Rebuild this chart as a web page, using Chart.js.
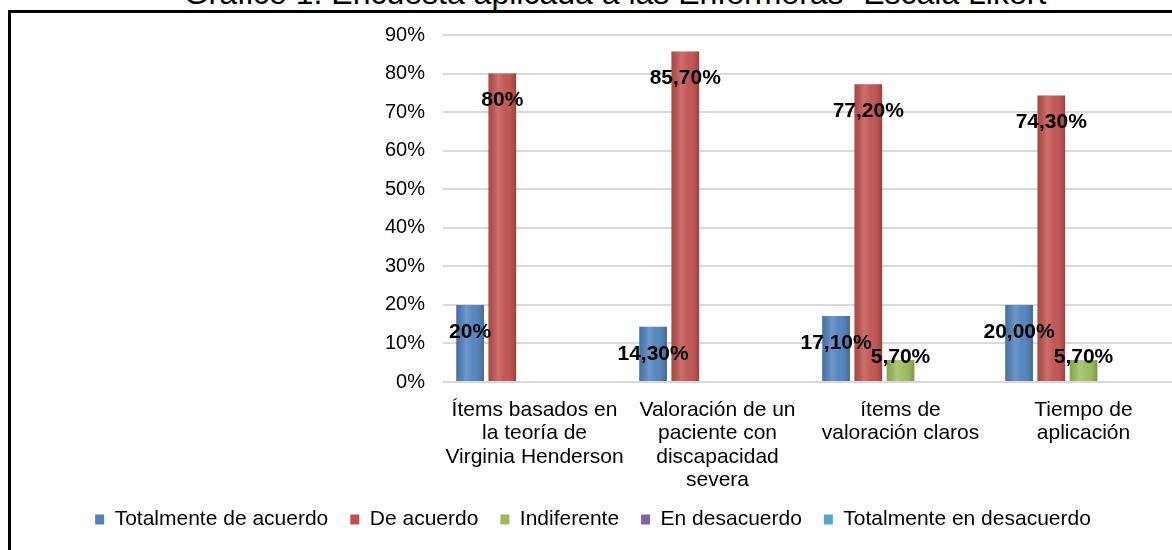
<!DOCTYPE html>
<html>
<head>
<meta charset="utf-8">
<script src="https://cdn.jsdelivr.net/npm/chart.js@4.4.0/dist/chart.umd.min.js"></script>
<style>
    html, body { margin: 0; padding: 0; background: #fff; overflow: hidden; width: 1172px; height: 550px; }
    #title {
        position: absolute; left: 0; top: -23px; width: 1230px; text-align: center;
        font: 32px "Liberation Sans", Arial, sans-serif; line-height: 32px; color: #000;
        white-space: nowrap;
    }
    #box {
        position: absolute; left: 8px; top: 10px; width: 1196px; height: 570px;
        border: 3px solid #000; box-sizing: border-box;
    }
    #wrap { position: absolute; left: 11px; top: 13px; width: 1190px; height: 560px; }
</style>
</head>
<body>
<div id="title">Gráfico 1. Encuesta aplicada a las Enfermeras -Escala Likert</div>
<div id="box"></div>
<div id="wrap"><canvas id="likert_chart"></canvas></div>
<script>
var categorias = [
    ["Ítems basados en", "la teoría de", "Virginia Henderson"],
    ["Valoración de un", "paciente con", "discapacidad", "severa"],
    ["ítems de", "valoración claros"],
    ["Tiempo de", "aplicación"]
];
var series = ["Totalmente de acuerdo", "De acuerdo", "Indiferente", "En desacuerdo", "Totalmente en desacuerdo"];

var totalmenteDeAcuerdo = [20, 14.3, 17.1, 20];
var deAcuerdo = [80, 85.7, 77.2, 74.3];
var indiferente = [0, 0, 5.7, 5.7];
var enDesacuerdo = [0, 0, 0, 0];
var totalmenteEnDesacuerdo = [0, 0, 0, 0];

// etiquetas tal como aparecen en el grafico
var etiquetasTotalmente = ["20%", "14,30%", "17,10%", "20,00%"];
var etiquetasDeAcuerdo = ["80%", "85,70%", "77,20%", "74,30%"];
var etiquetasIndiferente = ["", "", "5,70%", "5,70%"];

var yTicks = [0, 10, 20, 30, 40, 50, 60, 70, 80, 90];

var FONT = "'Liberation Sans', Arial, sans-serif";
var colores = ["#4F81BD", "#C0504D", "#9BBB59", "#8064A2", "#4BACC6"];

var etiquetas = [etiquetasTotalmente, etiquetasDeAcuerdo, etiquetasIndiferente, [], []];
var valores = [totalmenteDeAcuerdo, deAcuerdo, indiferente, enDesacuerdo, totalmenteEnDesacuerdo];

//bevel look + data labels
var barLabels = {
    id: "barLabels",
    afterDatasetsDraw: function(chart) {
        var ctx = chart.ctx;
        chart.data.datasets.forEach(function(ds, di) {
            var meta = chart.getDatasetMeta(di);
            meta.data.forEach(function(bar, i) {
                if (!ds.data[i]) return;
                var left = bar.x - bar.width / 2;
                var g = ctx.createLinearGradient(left, 0, left + bar.width, 0);
                g.addColorStop(0, "rgba(0,0,0,0.12)");
                g.addColorStop(0.35, "rgba(255,255,255,0.18)");
                g.addColorStop(0.6, "rgba(255,255,255,0.05)");
                g.addColorStop(1, "rgba(0,0,0,0.2)");
                ctx.save();
                ctx.fillStyle = g;
                ctx.fillRect(left, bar.y, bar.width, bar.base - bar.y);
                ctx.restore();
            });
        });
        ctx.save();
        ctx.font = "bold 21px " + FONT;
        ctx.fillStyle = "#000";
        ctx.textAlign = "center";
        ctx.textBaseline = "middle";
        chart.data.datasets.forEach(function(ds, di) {
            var meta = chart.getDatasetMeta(di);
            meta.data.forEach(function(bar, i) {
                var txt = (etiquetas[di] || [])[i];
                if (!txt) return;
                var y = Math.min(bar.y + 27, bar.base - 24);
                ctx.fillText(txt, bar.x, y);
            });
        });
        ctx.restore();
    }
};

var datasets = series.map(function(name, k) {
    return {
        label: name,
        data: valores[k],
        backgroundColor: colores[k],
        borderWidth: 0,
        categoryPercentage: 0.88,
        barPercentage: 0.86
    };
});

new Chart(document.getElementById("likert_chart"), {
    type: "bar",
    data: { labels: categorias, datasets: datasets },
    options: {
        responsive: true,
        maintainAspectRatio: false,
        animation: false,
        layout: { padding: { top: 22, bottom: 33, left: 0, right: 26 } },
        plugins: {
            legend: {
                position: "bottom",
                labels: {
                    boxWidth: 9,
                    boxHeight: 10,
                    padding: 22,
                    color: "#000",
                    font: { family: FONT, size: 21 }
                }
            },
            tooltip: { enabled: false }
        },
        scales: {
            x: {
                grid: { display: false },
                border: { display: false },
                ticks: {
                    color: "#000",
                    padding: 9,
                    maxRotation: 0,
                    autoSkip: false,
                    font: { family: FONT, size: 21, lineHeight: 1.1 }
                },
                afterFit: function(scale) { scale.height = 105; }
            },
            y: {
                min: 0,
                max: 90,
                afterBuildTicks: function(scale) {
                    scale.ticks = yTicks.map(function(v) { return { value: v }; });
                },
                grid: { color: "#D9D9D9", lineWidth: 2, drawTicks: true, tickLength: 10, tickColor: "rgba(0,0,0,0)" },
                border: { display: false },
                ticks: {
                    color: "#000",
                    padding: 8,
                    font: { family: FONT, size: 20 },
                    callback: function(v) { return v + "%"; }
                },
                afterFit: function(scale) { scale.width = 432; }
            }
        }
    },
    plugins: [barLabels]
});
</script>
</body>
</html>
